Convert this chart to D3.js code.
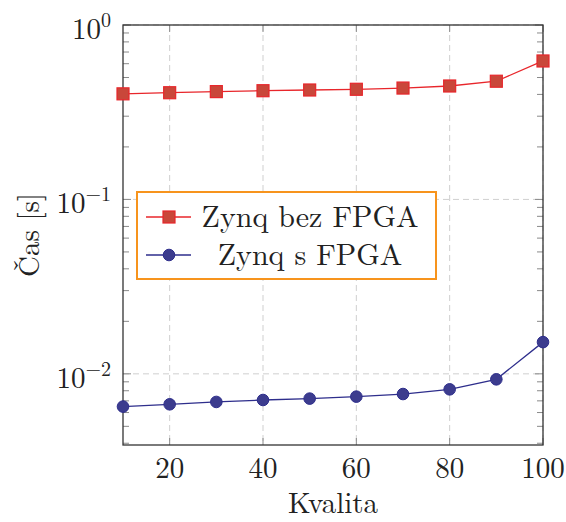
<!DOCTYPE html>
<html>
<head>
<meta charset="utf-8">
<script src="https://cdn.jsdelivr.net/npm/d3@7"></script>
<style>
body { margin: 0; background: #fff; }
</style>
</head>
<body>
<div id="chart"></div>
<script>
// data
var kvalita = [10, 20, 30, 40, 50, 60, 70, 80, 90, 100];
var bezFpga = [0.403, 0.409, 0.415, 0.420, 0.424, 0.428, 0.435, 0.447, 0.476, 0.622];
var sFpga = [0.00649, 0.00669, 0.00690, 0.00708, 0.00721, 0.00740, 0.00766, 0.00815, 0.00930, 0.0152];
var xTicks = [20, 40, 60, 80, 100];
var yTicks = [1, 0.1, 0.01];
var yExp = ["0", "\u22121", "\u22122"];
var seriesNames = ["Zynq bez FPGA", "Zynq s FPGA"];

var width = 566, height = 522;
var margin = { top: 25, left: 123 };
var w = 420, h = 420;
var serif = "Latin Modern Roman";

var svg = d3.select("#chart").append("svg")
	.attr("width", width)
	.attr("height", height);

var g = svg.append("g")
	.attr("transform", "translate(" + margin.left + "," + margin.top + ")");

var x = d3.scaleLinear().domain([10, 100]).range([0, w]);
var y = d3.scaleLog().domain([Math.pow(10, -2.408), 1]).range([h, 0]);

// minor ticks for the log axis
var minor = [];
[0.001, 0.01, 0.1].forEach(function(d) {
	for (var k = 2; k <= 9; k++) {
		var v = d * k;
		if (v >= y.domain()[0] && v <= 1) minor.push(v);
	}
});

// grid
g.selectAll(".gx").data(xTicks).enter().append("line")
	.attr("x1", function(d) { return x(d); }).attr("x2", function(d) { return x(d); })
	.attr("y1", 0).attr("y2", h)
	.attr("stroke", "#cfcfcf").attr("stroke-dasharray", "6,4");
g.selectAll(".gy").data(yTicks).enter().append("line")
	.attr("x1", 0).attr("x2", w)
	.attr("y1", function(d) { return y(d); }).attr("y2", function(d) { return y(d); })
	.attr("stroke", "#cfcfcf").attr("stroke-dasharray", "6,4");

// ticks inside on all sides
var tickCol = "#8a8a8a";
[0, h].forEach(function(yy, i) {
	g.selectAll(".tx" + i).data(xTicks).enter().append("line")
		.attr("x1", function(d) { return x(d); }).attr("x2", function(d) { return x(d); })
		.attr("y1", yy).attr("y2", i ? yy - 7 : yy + 7)
		.attr("stroke", tickCol);
});
[0, w].forEach(function(xx, i) {
	g.selectAll(".ty" + i).data(yTicks.concat(minor)).enter().append("line")
		.attr("y1", function(d) { return y(d); }).attr("y2", function(d) { return y(d); })
		.attr("x1", xx).attr("x2", function(d) {
			var len = yTicks.indexOf(d) >= 0 ? 8 : 6;
			return i ? xx - len : xx + len;
		})
		.attr("stroke", tickCol);
});

// frame
g.append("rect")
	.attr("width", w).attr("height", h)
	.attr("fill", "none").attr("stroke", "#333").attr("stroke-width", 1.3);

// x tick labels
g.selectAll(".xl").data(xTicks).enter().append("text")
	.attr("x", function(d) { return x(d); })
	.attr("y", h + 33)
	.attr("text-anchor", "middle")
	.attr("font-family", serif)
	.attr("fill", "#222")
	.style("font-size", "29px")
	.text(function(d) { return d; });

// y tick labels
var yl = g.selectAll(".yl").data(yTicks).enter().append("text")
	.attr("x", -12)
	.attr("y", function(d) { return y(d) + 14; })
	.attr("text-anchor", "end")
	.attr("font-family", serif)
	.attr("fill", "#222")
	.style("font-size", "29px");
yl.append("tspan").text("10");
yl.append("tspan")
	.attr("dy", -12)
	.style("font-size", "20px")
	.text(function(d, i) { return yExp[i]; });

// axis labels
g.append("text")
	.attr("x", w / 2).attr("y", h + 68)
	.attr("text-anchor", "middle")
	.attr("font-family", serif)
	.attr("fill", "#222")
	.style("font-size", "29px")
	.text("Kvalita");
g.append("text")
	.attr("transform", "translate(" + (-84) + "," + (h / 2) + ") rotate(-90)")
	.attr("text-anchor", "middle")
	.attr("font-family", serif)
	.attr("fill", "#222")
	.style("font-size", "29px")
	.text("Čas [s]");

// series
var red = "#e8262b", redFill = "#c9473a";
var blue = "#2e2e8c", blueFill = "#3c3c8e";

var line = d3.line()
	.x(function(d) { return x(d[0]); })
	.y(function(d) { return y(d[1]); });

var redData = d3.zip(kvalita, bezFpga);
var blueData = d3.zip(kvalita, sFpga);

g.append("path").datum(redData)
	.attr("d", line).attr("fill", "none")
	.attr("stroke", red).attr("stroke-width", 1.3);
g.selectAll(".sq").data(redData).enter().append("rect")
	.attr("x", function(d) { return x(d[0]) - 6; })
	.attr("y", function(d) { return y(d[1]) - 6; })
	.attr("width", 12).attr("height", 12)
	.attr("fill", redFill).attr("stroke", red).attr("stroke-width", 1.2);

g.append("path").datum(blueData)
	.attr("d", line).attr("fill", "none")
	.attr("stroke", blue).attr("stroke-width", 1.3);
g.selectAll(".ci").data(blueData).enter().append("circle")
	.attr("cx", function(d) { return x(d[0]); })
	.attr("cy", function(d) { return y(d[1]); })
	.attr("r", 5.8)
	.attr("fill", blueFill).attr("stroke", blue).attr("stroke-width", 1);

// legend
var lg = svg.append("g").attr("transform", "translate(137,192)");
lg.append("rect")
	.attr("width", 299).attr("height", 87)
	.attr("fill", "#fff").attr("stroke", "#f7941d").attr("stroke-width", 2);

var entries = lg.selectAll(".le").data(seriesNames).enter().append("g")
	.attr("transform", function(d, i) { return "translate(0," + (25 + i * 38) + ")"; });
entries.append("line")
	.attr("x1", 9).attr("x2", 54)
	.attr("stroke", function(d, i) { return i ? blue : red; })
	.attr("stroke-width", 1.5);
entries.filter(function(d, i) { return i === 0; }).append("rect")
	.attr("x", 26).attr("y", -6).attr("width", 12).attr("height", 12)
	.attr("fill", redFill).attr("stroke", red).attr("stroke-width", 1.2);
entries.filter(function(d, i) { return i === 1; }).append("circle")
	.attr("cx", 32).attr("r", 5.8)
	.attr("fill", blueFill).attr("stroke", blue);
entries.append("text")
	.attr("x", 173).attr("y", 10)
	.attr("text-anchor", "middle")
	.attr("font-family", serif)
	.attr("fill", "#222")
	.style("font-size", "30px")
	.text(function(d) { return d; });
</script>
</body>
</html>
